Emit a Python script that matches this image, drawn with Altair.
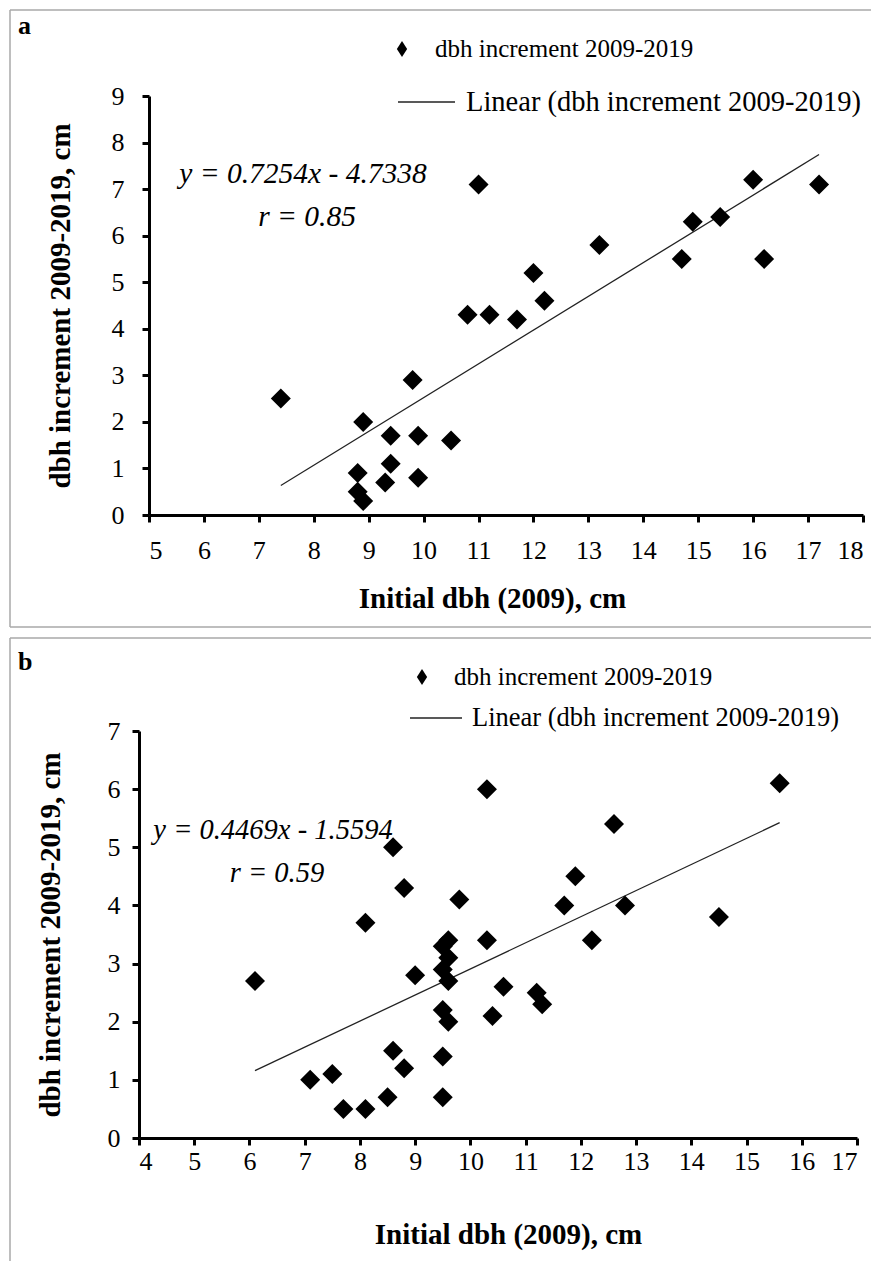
import altair as alt
import pandas as pd

# ---------------- data ----------------
a_initial_dbh = [7.4, 8.8, 8.8, 8.9, 8.9, 9.3, 9.4, 9.4, 9.8, 9.9, 9.9, 10.5,
                 10.8, 11.0, 11.2, 11.7, 12.0, 12.2, 13.2, 14.7, 14.9, 15.4,
                 16.0, 16.2, 17.2]
a_increment = [2.5, 0.9, 0.5, 0.3, 2.0, 0.7, 1.1, 1.7, 2.9, 1.7, 0.8, 1.6,
               4.3, 7.1, 4.3, 4.2, 5.2, 4.6, 5.8, 5.5, 6.3, 6.4,
               7.2, 5.5, 7.1]

b_initial_dbh = [6.1, 7.1, 7.5, 7.7, 8.1, 8.1, 8.5, 8.6, 8.6, 8.8,
                 8.8, 9.0, 9.5, 9.6, 9.6, 9.5, 9.6, 9.5, 9.6, 9.5,
                 9.5, 9.8, 10.3, 10.3, 10.4, 10.6, 11.2, 11.3, 11.7, 11.9,
                 12.2, 12.6, 12.8, 14.5, 15.6]
b_increment = [2.7, 1.0, 1.1, 0.5, 0.5, 3.7, 0.7, 5.0, 1.5, 4.3,
               1.2, 2.8, 3.3, 3.4, 3.1, 2.9, 2.7, 2.2, 2.0, 1.4,
               0.7, 4.1, 6.0, 3.4, 2.1, 2.6, 2.5, 2.3, 4.0, 4.5,
               3.4, 5.4, 4.0, 3.8, 6.1]

a_x_ticks = list(range(5, 19))
a_y_ticks = list(range(0, 10))
b_x_ticks = list(range(4, 18))
b_y_ticks = list(range(0, 8))

series_label = "dbh increment 2009-2019"
trend_label = "Linear (dbh increment 2009-2019)"
a_equation = "y = 0.7254x - 4.7338"
a_r = "r = 0.85"
b_equation = "y = 0.4469x - 1.5594"
b_r = "r = 0.59"
x_title = "Initial dbh (2009), cm"
y_title = "dbh increment 2009-2019, cm"

FONT = "Liberation Serif"
BORDER = "#a8a8a8"


def panel(xs, ys, xticks, yticks, W, H, lay):
    df = pd.DataFrame({"x": xs, "y": ys})
    one = alt.Chart(pd.DataFrame({"k": [0]}))
    x0 = lay["x0"]
    xsc = alt.Scale(domain=[xticks[0], xticks[-1]], nice=False, zero=False,
                    range=[x0, W])
    ysc = alt.Scale(domain=[yticks[0], yticks[-1]], nice=False, zero=False)

    pts = alt.Chart(df).mark_point(
        shape="diamond", filled=True, size=400, color="black", opacity=1
    ).encode(
        x=alt.X("x:Q", scale=xsc, axis=alt.Axis(
            title=x_title, values=xticks, format="d",
            labelPadding=lay["xlp"], titlePadding=lay["xtp"],
            titleX=lay["title_x"])),
        y=alt.Y("y:Q", scale=ysc, axis=alt.Axis(
            title=y_title, values=yticks, format="d", offset=-x0,
            labelPadding=lay["ylp"], titlePadding=lay["ytp"])),
    )
    trend = alt.Chart(df).transform_regression("x", "y").mark_line(
        color="#222222", strokeWidth=1.3
    ).encode(x=alt.X("x:Q", scale=xsc), y=alt.Y("y:Q", scale=ysc))

    L, T, R, B = lay["left"], lay["top"], lay["right"], lay["bottom"]
    border = [
        one.mark_rule(color=BORDER, strokeWidth=1.5).encode(
            x=alt.value(L), y=alt.value(T), y2=alt.value(B)),
        one.mark_rule(color=BORDER, strokeWidth=1.5).encode(
            x=alt.value(L), x2=alt.value(R), y=alt.value(T)),
    ]
    if lay.get("bottom_line"):
        border.append(one.mark_rule(color=BORDER, strokeWidth=1.5).encode(
            x=alt.value(L), x2=alt.value(R), y=alt.value(B)))

    letter = one.mark_text(
        text=lay["letter"], font=FONT, fontSize=26, fontWeight="bold",
        align="left", baseline="middle", color="black"
    ).encode(x=alt.value(lay["letter_xy"][0]), y=alt.value(lay["letter_xy"][1]))

    lg_pt = one.mark_point(
        shape="M0,-1.4L0.9,0L0,1.4L-0.9,0Z", filled=True, size=130,
        color="black", opacity=1
    ).encode(x=alt.value(lay["lg_pt"][0]), y=alt.value(lay["lg_pt"][1]))
    lg_pt_txt = one.mark_text(
        text=series_label, font=FONT, fontSize=25, align="left",
        baseline="middle", color="black"
    ).encode(x=alt.value(lay["lg_pt_txt"][0]), y=alt.value(lay["lg_pt_txt"][1]))
    lg_line = one.mark_rule(color="#222222", strokeWidth=1.3).encode(
        x=alt.value(lay["lg_line"][0]), x2=alt.value(lay["lg_line"][1]),
        y=alt.value(lay["lg_line"][2]))
    lg_line_txt = one.mark_text(
        text=trend_label, font=FONT, fontSize=lay["lg_line_fs"], align="left",
        baseline="middle", color="black"
    ).encode(x=alt.value(lay["lg_line_txt"][0]), y=alt.value(lay["lg_line_txt"][1]))

    eq = one.mark_text(
        text=lay["eq"], font=FONT, fontSize=lay["eq_fs"], fontStyle="italic",
        align="center", baseline="middle", color="black"
    ).encode(x=alt.value(lay["eq_xy"][0]), y=alt.value(lay["eq_xy"][1]))
    rr = one.mark_text(
        text=lay["r"], font=FONT, fontSize=lay["eq_fs"], fontStyle="italic",
        align="center", baseline="middle", color="black"
    ).encode(x=alt.value(lay["r_xy"][0]), y=alt.value(lay["r_xy"][1]))

    return alt.layer(
        *border, trend, pts, letter, lg_pt, lg_pt_txt, lg_line, lg_line_txt, eq, rr
    ).properties(width=W, height=H)


# Both plot areas share a left origin at page x 137; panel a's axis is moved 10 px right.
lay_a = dict(x0=10, left=-129, top=-86, right=732, bottom=531, bottom_line=True,
             letter="a", letter_xy=(-121, -70),
             lg_pt=(263, -47), lg_pt_txt=(296, -47),
             lg_line=(259, 316, 6), lg_line_txt=(327, 6), lg_line_fs=28.5,
             eq=a_equation, eq_xy=(164, 78), r=a_r, r_xy=(168, 121), eq_fs=29.5,
             xlp=15, xtp=21, ylp=18, ytp=36, title_x=353)
lay_b = dict(x0=0, left=-129, top=-93, right=732, bottom=530,
             letter="b", letter_xy=(-121, -69),
             lg_pt=(283, -54), lg_pt_txt=(315, -54),
             lg_line=(271, 323, -13), lg_line_txt=(333, -13), lg_line_fs=26.5,
             eq=b_equation, eq_xy=(134, 99), r=b_r, r_xy=(138, 142), eq_fs=28.5,
             xlp=3, xtp=46, ylp=12, ytp=42, title_x=369)

pa = panel(a_initial_dbh, a_increment, a_x_ticks, a_y_ticks, 724, 419, lay_a)
pb = panel(b_initial_dbh, b_increment, b_x_ticks, b_y_ticks, 718, 407, lay_b)

chart = alt.vconcat(pa, pb, spacing=7).properties(
    padding=0
).configure_view(stroke="transparent").configure_axis(
    grid=False,
    domainColor="black", domainWidth=3,
    tickColor="black", tickWidth=3, tickSize=7,
    labelFont=FONT, labelFontSize=26, labelColor="black",
    titleFont=FONT, titleFontSize=29, titleFontWeight="bold", titleColor="black",
)

chart.save("out.html", embed_options={"renderer": "svg", "actions": False})
